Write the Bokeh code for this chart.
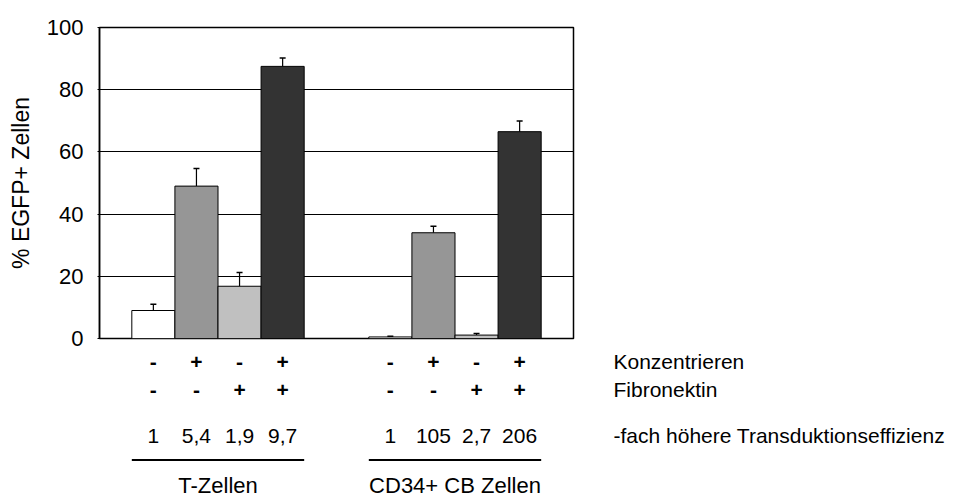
from bokeh.plotting import figure
from bokeh.layouts import column
from bokeh.models import Range1d, FixedTicker, Whisker, ColumnDataSource, TeeHead
from bokeh.core.properties import value
from bokeh.embed import file_html
from bokeh.resources import INLINE

# ---------------- data ----------------
groups = ["T-Zellen", "CD34+ CB Zellen"]
konzentrieren = ["-", "+", "-", "+"]
fibronektin = ["-", "-", "+", "+"]
bar_colors = ["#ffffff", "#969696", "#c0c0c0", "#333333"]
t_values = [9.0, 49.0, 16.8, 87.5]
t_errors = [2.0, 5.7, 4.4, 2.7]
cd34_values = [0.5, 34.0, 1.1, 66.5]
cd34_errors = [0.2, 2.1, 0.5, 3.4]
t_fold = ["1", "5,4", "1,9", "9,7"]
cd34_fold = ["1", "105", "2,7", "206"]
row_labels = ["Konzentrieren", "Fibronektin", "-fach höhere Transduktionseffizienz"]
y_ticks = [0, 20, 40, 60, 80, 100]

# ---------------- layout constants ----------------
FONT = "Liberation Sans"
W, H = 956, 498
LEFT, RIGHT, TOP, BOTTOM = 99, 573, 27, 338
TOP_H = 350
BOT_H = H - TOP_H
px_per_unit = (RIGHT - LEFT) / 2.0
bar_w = 1 / 5.5

xs, tops, uppers, cols = [], [], [], []
for g, (vals, es) in enumerate([(t_values, t_errors), (cd34_values, cd34_errors)]):
    for i in range(4):
        xs.append(g + 0.5 + (i - 1.5) * bar_w)
        tops.append(vals[i])
        uppers.append(vals[i] + es[i])
        cols.append(bar_colors[i])

src = ColumnDataSource(dict(x=xs, top=tops, upper=uppers, color=cols))

# ---------------- main chart ----------------
p = figure(width=W, height=TOP_H, x_range=Range1d(0, 2), y_range=Range1d(0, 100),
           output_backend="svg", toolbar_location=None,
           min_border_left=LEFT, min_border_right=W - RIGHT,
           min_border_top=TOP, min_border_bottom=TOP_H - BOTTOM)
p.frame_align = False
p.xaxis.visible = False
p.xgrid.grid_line_color = None
p.ygrid.ticker = FixedTicker(ticks=y_ticks)
p.ygrid.grid_line_color = "black"
p.ygrid.grid_line_width = 1
p.outline_line_color = "black"
p.outline_line_width = 1.5
p.background_fill_color = "white"
p.border_fill_color = "white"

ya = p.yaxis[0]
ya.ticker = FixedTicker(ticks=y_ticks)
ya.minor_tick_line_color = None
ya.major_tick_in = 0
ya.major_tick_out = 2
ya.major_tick_line_color = "black"
ya.axis_line_color = "black"
ya.axis_line_width = 1.5
ya.major_label_text_font = FONT
ya.major_label_text_font_size = "22px"
ya.major_label_text_color = "black"
ya.major_label_standoff = 14
ya.axis_label = "% EGFP+ Zellen"
ya.axis_label_text_font = FONT
ya.axis_label_text_font_size = "23px"
ya.axis_label_text_font_style = "normal"
ya.axis_label_text_color = "black"
ya.axis_label_standoff = 10

p.vbar(x="x", top="top", bottom=0, width=bar_w, fill_color="color",
       line_color="black", line_width=1, source=src)
p.add_layout(Whisker(source=src, base="x", upper="upper", lower="top",
                     dimension="height", line_color="black", line_width=1.2,
                     upper_head=TeeHead(size=6, line_color="black", line_width=1.5),
                     lower_head=None))

# ---------------- condition table below ----------------
q = figure(width=W, height=BOT_H,
           x_range=Range1d(0, (W - LEFT) / px_per_unit), y_range=Range1d(BOT_H, 0),
           output_backend="svg", toolbar_location=None,
           x_axis_type=None, y_axis_type=None,
           min_border_left=LEFT, min_border_right=0, min_border_top=0, min_border_bottom=0)
q.frame_align = False
q.outline_line_color = None
q.xgrid.grid_line_color = None
q.ygrid.grid_line_color = None
q.background_fill_color = "white"
q.border_fill_color = "white"

off = TOP_H
row_y = [361 - off, 389 - off, 435 - off]
line_y = 459.5 - off
group_y = 484.5 - off

q.text(x=xs, y=[row_y[0]] * 8, text=konzentrieren * 2, text_align="center",
       text_baseline="middle", text_font=value(FONT), text_font_size="21px",
       text_font_style="bold", text_color="black")
q.text(x=xs, y=[row_y[1]] * 8, text=fibronektin * 2, text_align="center",
       text_baseline="middle", text_font=value(FONT), text_font_size="21px",
       text_font_style="bold", text_color="black")
q.text(x=xs, y=[row_y[2]] * 8, text=t_fold + cd34_fold, text_align="center",
       text_baseline="middle", text_font=value(FONT), text_font_size="21px",
       text_color="black")

label_x = (613 - LEFT) / px_per_unit
q.text(x=[label_x] * 3, y=row_y, text=row_labels, text_align="left",
       text_baseline="middle", text_font=value(FONT), text_font_size="21px",
       text_color="black")

g_left = [g + 0.5 - 2 * bar_w for g in range(2)]
g_right = [g + 0.5 + 2 * bar_w for g in range(2)]
q.segment(x0=g_left, x1=g_right, y0=[line_y] * 2, y1=[line_y] * 2,
          line_color="black", line_width=2)
q.text(x=[g + 0.5 for g in range(2)], y=[group_y] * 2, text=groups,
       text_align="center", text_baseline="middle", text_font=value(FONT),
       text_font_size="22px", text_color="black")

layout = column(p, q, spacing=0)
open("out.html", "w").write(file_html(layout, INLINE))
